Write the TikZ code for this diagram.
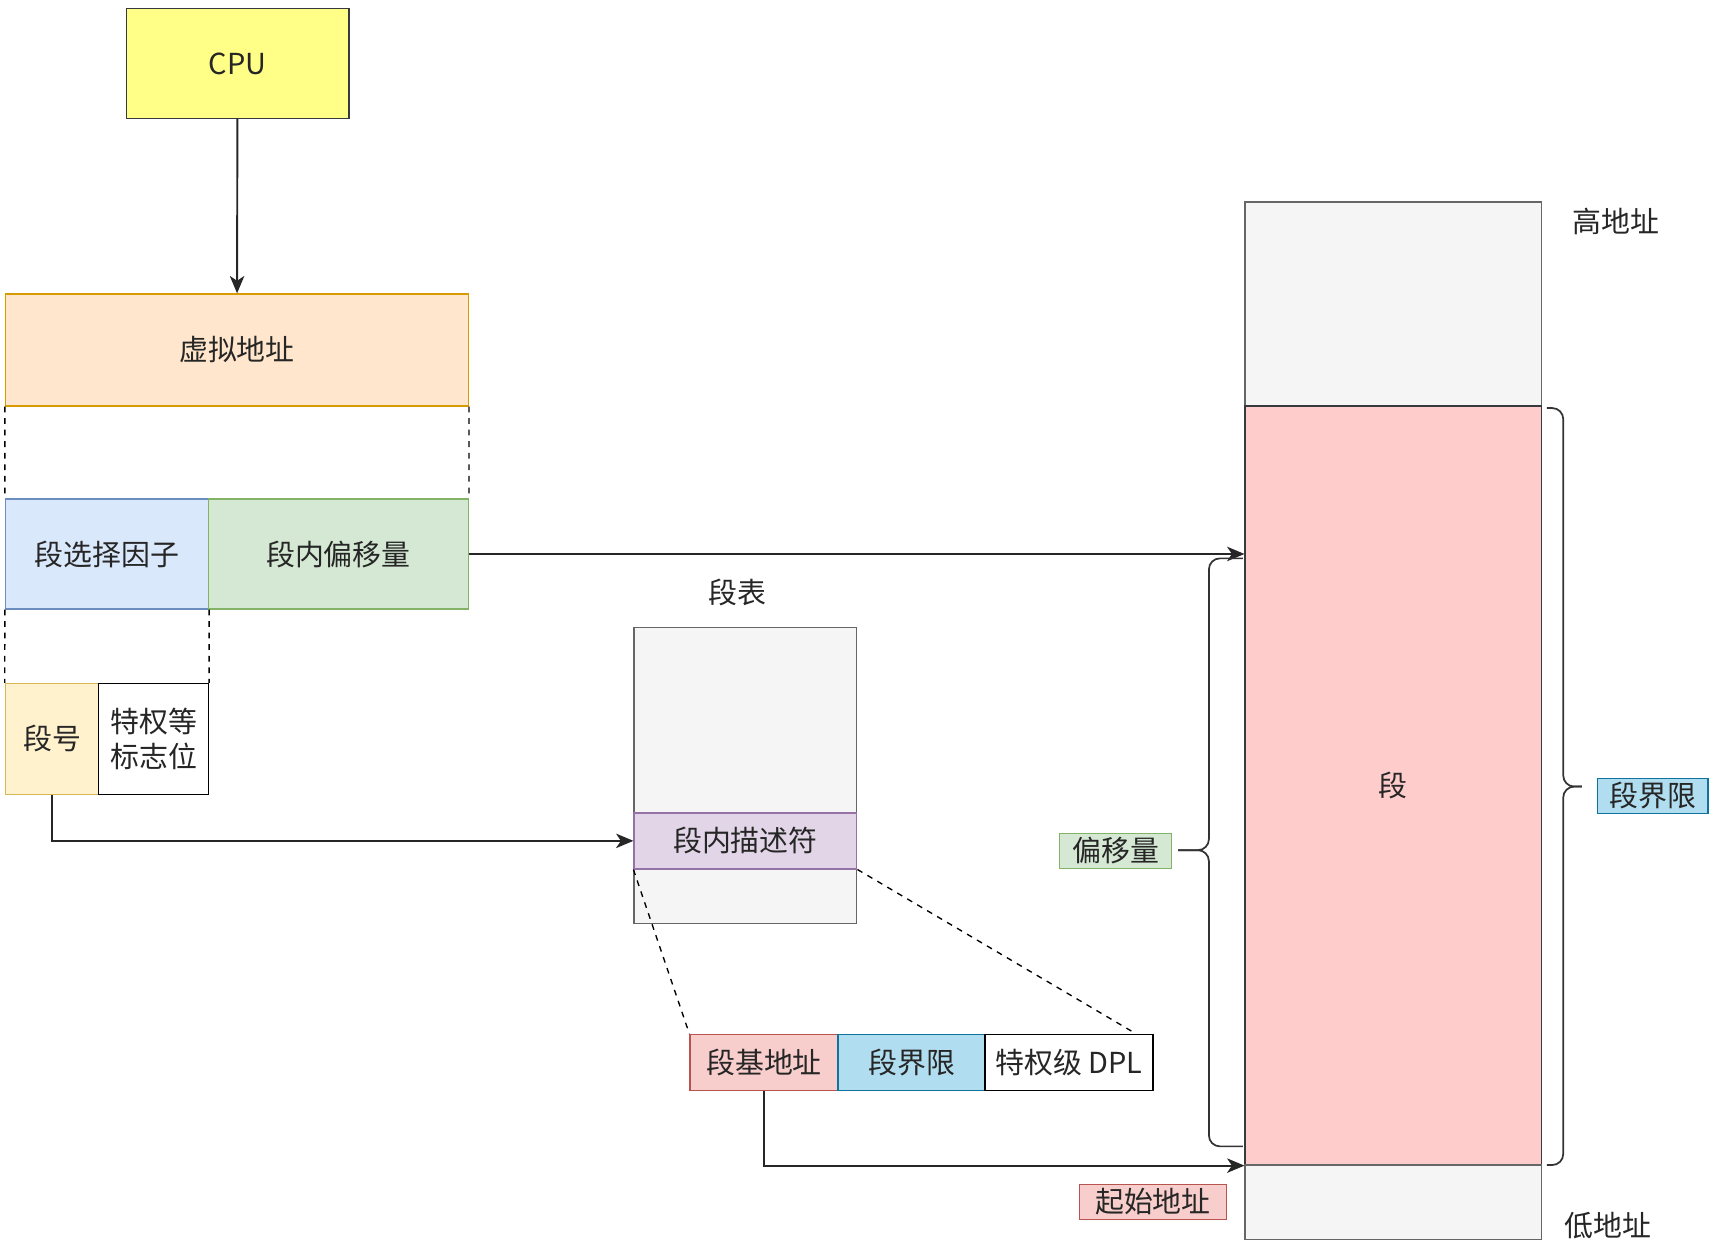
\documentclass[tikz,border=0pt]{standalone}
\usepackage{fontspec}
\setmainfont{Noto Sans CJK SC}
\usepackage{tikz}
\usetikzlibrary{arrows, arrows.meta, positioning, calc}
\definecolor{cpufill}{HTML}{FFFF88}
\definecolor{darkline}{HTML}{36393D}
\definecolor{vafill}{HTML}{FFE6CC}
\definecolor{valine}{HTML}{D79B00}
\definecolor{selfill}{HTML}{DAE8FC}
\definecolor{selline}{HTML}{6C8EBF}
\definecolor{offfill}{HTML}{D5E8D4}
\definecolor{offline}{HTML}{82B366}
\definecolor{nofill}{HTML}{FFF2CC}
\definecolor{noline}{HTML}{D6B656}
\definecolor{tblfill}{HTML}{F5F5F5}
\definecolor{tblline}{HTML}{666666}
\definecolor{descfill}{HTML}{E1D5E7}
\definecolor{descline}{HTML}{9673A6}
\definecolor{basefill}{HTML}{F8CECC}
\definecolor{baseline}{HTML}{B85450}
\definecolor{limfill}{HTML}{B1DDF0}
\definecolor{limline}{HTML}{10739E}
\definecolor{segfill}{HTML}{FFCCCC}
\tikzset{%
	box/.style={draw, rectangle, inner sep=0mm, line width=0.7pt, text=black!85,%
		font=\fontsize{15}{18}\selectfont},
	tag/.style={box, minimum height=0.64cm},
	txt/.style={inner sep=0mm, text=black!85, font=\fontsize{15}{18}\selectfont},
	sel/.style={-{Stealth[length=9pt, width=7.5pt, inset=2.5pt]}, line width=1pt, draw=black!85},
	guide/.style={dashed, line width=0.7pt},
	bracket/.style={line width=0.9pt, draw=black!80, rounded corners=0.2cm}
}
\begin{document}
\begin{tikzpicture}[x=0.02cm, y=-0.02cm]
	\useasboundingbox (0,0) rectangle (1567,1139.5);

	%cpu and virtual address
	\node[box, fill=cpufill, draw=darkline, minimum width=4.06cm, minimum height=2cm] (cpu) at (216.5,58) {CPU};
	\node[box, fill=vafill, draw=valine, minimum width=8.44cm, minimum height=2.04cm] (va) at (216,319) {虚拟地址};
	\node[box, fill=selfill, draw=selline, minimum width=3.7cm, minimum height=2cm] (selector) at (97.5,505) {段选择因子};
	\node[box, fill=offfill, draw=offline, minimum width=4.74cm, minimum height=2cm] (offset) at (308.5,505) {段内偏移量};
	\node[box, fill=nofill, draw=noline, minimum width=1.7cm, minimum height=2.02cm] (segno) at (47.5,673.5) {段号};
	\node[box, fill=white, draw=black, minimum width=2cm, minimum height=2.02cm, align=center] (flags) at (140,673.5) {特权等\\标志位};

	\draw[sel] (cpu) to (va);
	\draw[guide] (va.south west) to (selector.north west);
	\draw[guide] (va.south east) to (offset.north east);
	\draw[guide] (selector.south west) to (segno.north west);
	\draw[guide] (selector.south east) to (flags.north east);

	%segment table
	\node[txt] (tbltitle) at (672,540) {段表};
	\node[box, fill=tblfill, draw=tblline, minimum width=4.06cm, minimum height=5.4cm] (table) at (679.5,707) {};
	\node[box, fill=descfill, draw=descline, minimum width=4.06cm, minimum height=1.02cm] (desc) at (679.5,766.5) {段内描述符};

	\node[box, fill=basefill, draw=baseline, minimum width=2.7cm, minimum height=1.02cm] (base) at (696.5,968.5) {段基地址};
	\node[box, fill=limfill, draw=limline, minimum width=2.68cm, minimum height=1.02cm] (limit) at (831,968.5) {段界限};
	\node[box, fill=white, draw=black, minimum width=3.06cm, minimum height=1.02cm] (dpl) at (974.5,968.5) {特权级 DPL};

	\draw[sel] (segno.south) |- (desc.west);
	\draw[guide] (desc.south west) to (base.north west);
	\draw[guide] (desc.south east) to ([xshift=-0.32cm]dpl.north east);

	%memory
	\node[box, fill=tblfill, draw=tblline, minimum width=5.4cm, minimum height=3.72cm] (high) at (1270,277) {};
	\node[box, fill=segfill, draw=darkline, minimum width=5.4cm, minimum height=13.84cm] (seg) at (1270,716) {段};
	\node[box, fill=tblfill, draw=tblline, minimum width=5.4cm, minimum height=1.36cm] (low) at (1270,1096) {};
	\node[txt] (hilbl) at (1473,202) {高地址};
	\node[txt] (lolbl) at (1466,1117) {低地址};

	\draw[sel] (offset.east) to (offset.east -| seg.west);
	\draw[sel] (base.south) |- (seg.south west);

	%brackets
	\node[tag, fill=limfill, draw=limline, minimum width=2.02cm] (limtag) at (1506.5,725.5) {段界限};
	\node[tag, fill=offfill, draw=offline, minimum width=2.04cm] (offtag) at (1017,775.5) {偏移量};
	\node[tag, fill=basefill, draw=baseline, minimum width=2.68cm] (starttag) at (1051,1095.5) {起始地址};

	\draw[bracket] (1410,372) -- (1425,372) -- (1425,717) -- (1442,717);
	\draw[bracket] (1410,1062) -- (1425,1062) -- (1425,717) -- (1442,717);
	\draw[bracket] (1133,509) -- (1102,509) -- (1102,775) -- (1074,775);
	\draw[bracket] (1133,1045) -- (1102,1045) -- (1102,775) -- (1074,775);

\end{tikzpicture}
\end{document}
